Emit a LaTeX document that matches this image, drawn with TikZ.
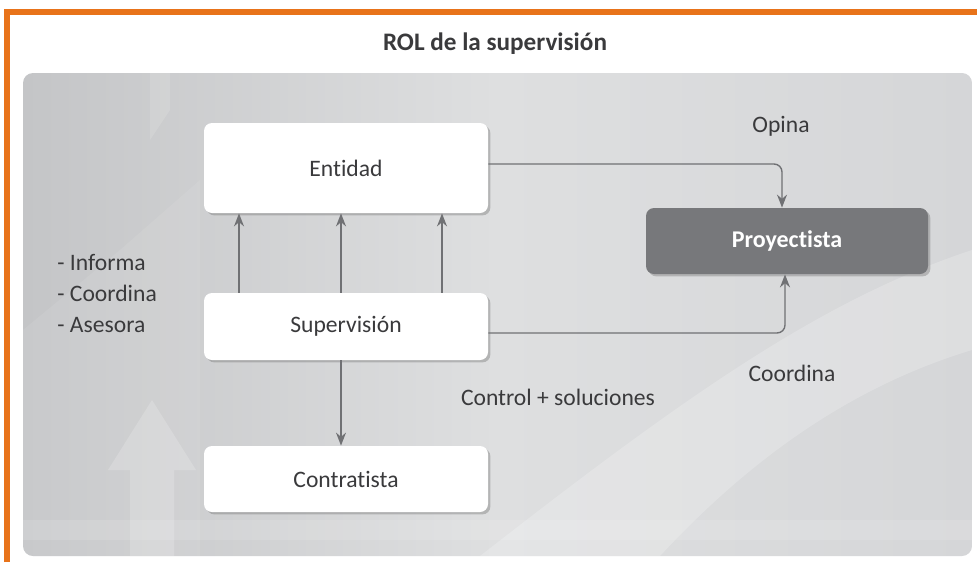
\documentclass[tikz,border=0pt]{standalone}
\usepackage{fontspec}
\setmainfont{Carlito}[Ligatures=NoCommon]
\usetikzlibrary{calc,shadows,arrows.meta}
\definecolor{orng}{HTML}{E8731A}
\definecolor{txt}{HTML}{3A3A3C}
\definecolor{arrc}{HTML}{707174}
\definecolor{pgray}{HTML}{77787B}
\definecolor{bgA}{HTML}{C4C5C7}
\definecolor{bgB}{HTML}{DEDFE0}
\definecolor{bgC}{HTML}{D5D6D8}
\tikzset{
  box/.style={rectangle, rounded corners=4pt, fill=white, minimum width=142pt,
    text=txt, font=\fontsize{11.8}{14}\selectfont,
    drop shadow={shadow xshift=1.2pt, shadow yshift=-1.2pt, opacity=0.35, fill=black!60}},
  darkbox/.style={box, fill=pgray, text=white, font=\fontsize{12}{14}\selectfont\bfseries},
  arr/.style={draw=arrc, line width=0.7pt, -{Stealth[length=6.5pt,width=5pt]}},
  lbl/.style={text=txt, font=\fontsize{11.8}{14}\selectfont, inner sep=0pt}
}
\begin{document}
\begin{tikzpicture}[x=0.5pt,y=-0.5pt]
\useasboundingbox (0,0) rectangle (977,562);
\fill[white] (0,0) rectangle (977,562);
% panel background
\begin{scope}
\clip[rounded corners=5pt] (23,73) rectangle (972,556);
\shade[left color=bgA, right color=bgC, middle color=bgB] (23,73) rectangle (972,556);
% faint shapes
\fill[white,opacity=0.2] (480,556) .. controls (680,400) and (820,300) .. (972,250) -- (972,350) .. controls (840,390) and (740,470) .. (660,556) -- cycle;
\fill[white,opacity=0.08] (23,330) -- (120,250) -- (200,180) -- (200,556) -- (23,556) -- cycle;
\fill[white,opacity=0.18] (130,556) -- (130,470) -- (108,470) -- (152,400) -- (196,470) -- (174,470) -- (174,556) -- cycle;
\fill[white,opacity=0.12] (23,520) rectangle (972,540);
\fill[white,opacity=0.12] (150,73) -- (170,73) -- (170,110) -- (150,140) -- cycle;
\end{scope}
% orange frame
\draw[orng, line width=3pt] (7,562) -- (7,12) -- (977,12);
% title
\node[lbl, font=\fontsize{12.6}{15}\selectfont\bfseries] (title) at (495,44) {ROL de la supervisión};
% nodes
\node[box, minimum height=45pt] (ent) at (346,168) {Entidad};
\node[box, minimum height=33.5pt] (sup) at (346,326.5) {Supervisión};
\node[box, minimum height=33pt] (con) at (346,479) {Contratista};
\node[darkbox, minimum width=141pt, minimum height=33pt] (pro) at (787,241) {Proyectista};
% arrows
\draw[arr] ($(sup.north)+(-107,0)$) -- ($(ent.south)+(-107,0)$);
\draw[arr] ($(sup.north)+(-5,0)$) -- ($(ent.south)+(-5,0)$);
\draw[arr] ($(sup.north)+(96,0)$) -- ($(ent.south)+(96,0)$);
\draw[arr] ($(sup.south)+(-5,0)$) -- ($(con.north)+(-5,0)$);
\draw[arr, rounded corners=4pt] ($(ent.east)+(0,-4)$) -| ($(pro.north)+(-5,0)$);
\draw[arr, rounded corners=4pt] ($(sup.east)+(0,6.5)$) -| ($(pro.south)+(-2,0)$);
% labels
\node[lbl] (opina) at (781,126) {Opina};
\node[lbl] (coord) at (792,373) {Coordina};
\node[lbl] (ctrl) at (558,397) {Control + soluciones};
\node[lbl, anchor=west, align=left, font=\fontsize{11.8}{15.5}\selectfont] (roles) at (57,293) {- Informa\\- Coordina\\- Asesora};
\end{tikzpicture}
\end{document}
